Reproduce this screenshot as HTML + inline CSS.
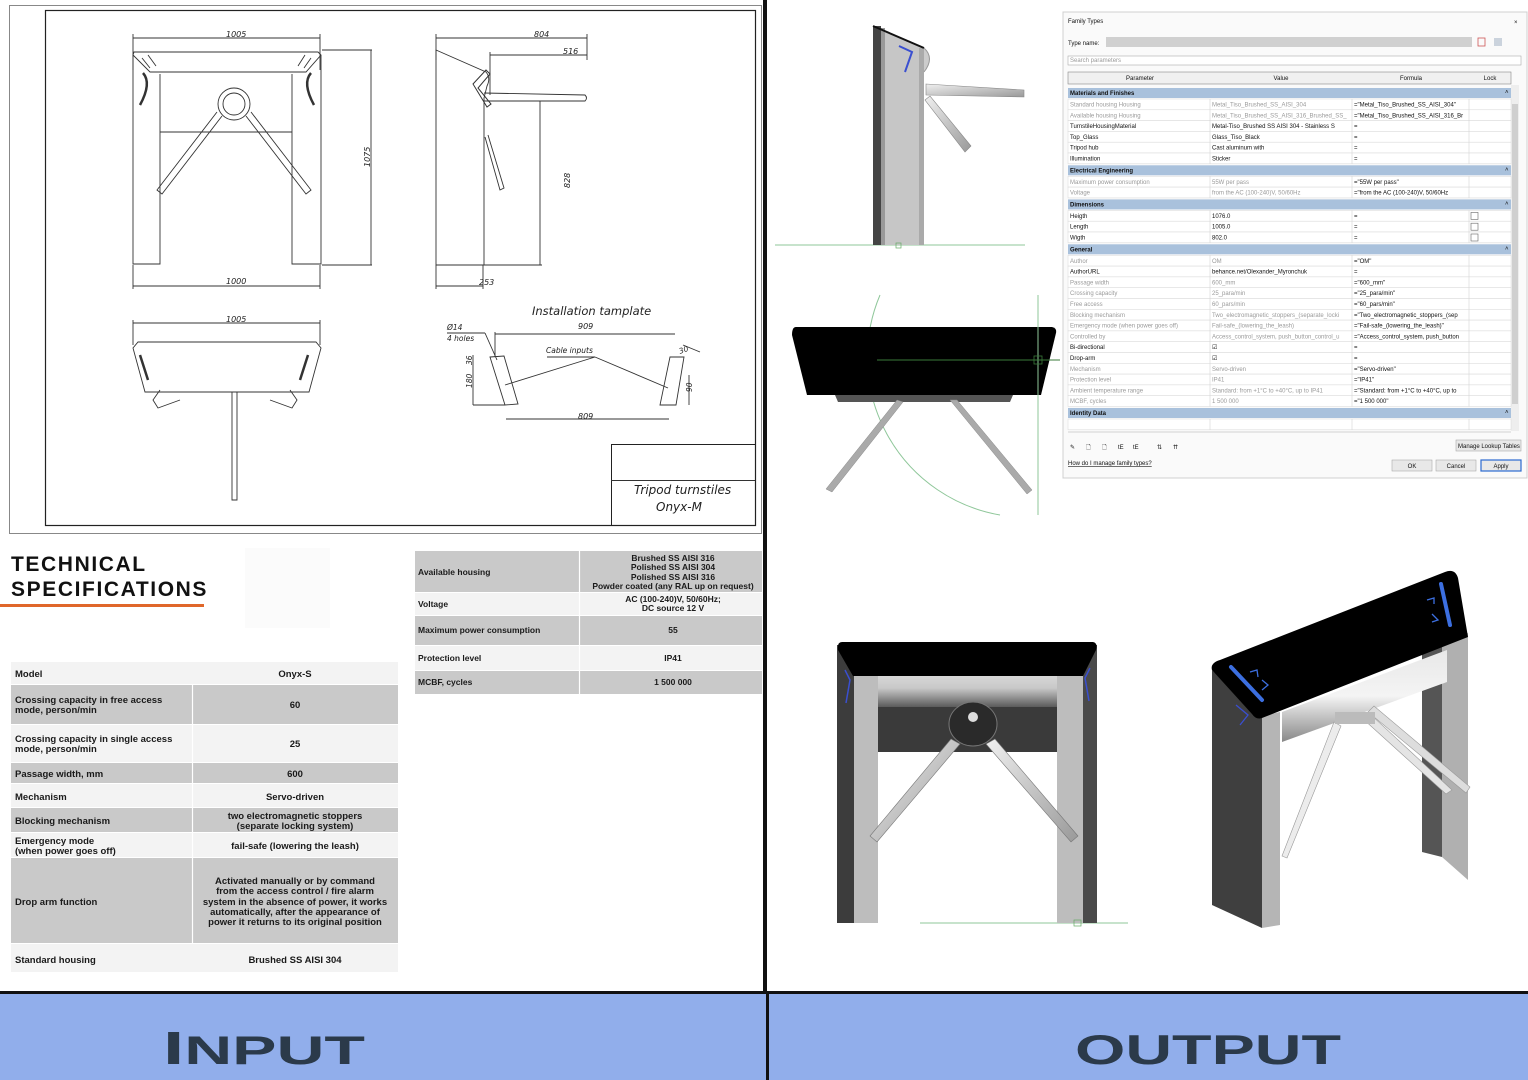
<!DOCTYPE html>
<html><head><meta charset="utf-8"><style>
html,body{margin:0;padding:0;background:#fff;}
svg{display:block;}
.dr{font-family:"DejaVu Sans","Liberation Sans",sans-serif;font-style:italic;fill:#222;}
.tb{font-family:"Liberation Sans",sans-serif;font-size:9.5px;fill:#1a1a1a;font-weight:bold;}
.dg{font-family:"Liberation Sans",sans-serif;font-size:6px;fill:#111;}
.dgg{font-family:"Liberation Sans",sans-serif;font-size:6px;fill:#9a9a9a;}
</style></head><body>
<svg id="s" width="1528" height="1080" viewBox="0 0 1528 1080" xmlns="http://www.w3.org/2000/svg">
<rect width="1528" height="1080" fill="#fff"/>
<defs>
<linearGradient id="drum" x1="0" y1="0" x2="0" y2="1"><stop offset="0" stop-color="#d8d8d8"/><stop offset="0.4" stop-color="#c8c8c8"/><stop offset="1" stop-color="#555"/></linearGradient>
<linearGradient id="drum2" x1="0" y1="0" x2="0" y2="1"><stop offset="0" stop-color="#e8e8e8"/><stop offset="0.5" stop-color="#f4f4f4"/><stop offset="1" stop-color="#888"/></linearGradient>
<linearGradient id="arm" x1="0" y1="0" x2="1" y2="1"><stop offset="0" stop-color="#f0f0f0"/><stop offset="1" stop-color="#999"/></linearGradient>
</defs>

<!-- ===== LEFT DRAWING ===== -->
<g stroke="#333" fill="none" stroke-width="1">
<rect x="9.5" y="5.5" width="752" height="528" stroke="#888"/>
<rect x="45.5" y="10.5" width="710" height="515" stroke="#222" stroke-width="1.2"/>
<rect x="611.5" y="444.5" width="144" height="81" stroke="#222"/>
<line x1="611" y1="480.5" x2="755" y2="480.5"/>
</g>
<g stroke="#333" fill="none" stroke-width="0.9">
<line x1="133" y1="38" x2="320" y2="38"/><line x1="133" y1="34" x2="133" y2="70"/><line x1="320" y1="34" x2="320" y2="70"/>
<path d="M134,52 L318,52 L321,55 L306,72 L150,72 L133,55 Z"/>
<path d="M133,55 L133,264 L160,264 L160,74"/>
<path d="M321,55 L321,264 L292,264 L292,74"/>
<line x1="160" y1="132" x2="292" y2="132"/>
<line x1="322" y1="50" x2="372" y2="50"/><line x1="322" y1="265" x2="372" y2="265"/><line x1="371" y1="50" x2="371" y2="265"/>
<line x1="133" y1="286" x2="320" y2="286"/><line x1="133" y1="265" x2="133" y2="289"/><line x1="320" y1="265" x2="320" y2="289"/>
<circle cx="234" cy="104" r="16"/><circle cx="234" cy="104" r="11"/>
<path d="M217,112 L157,190 L162,194 L222,116" /><path d="M251,112 L311,190 L306,194 L246,116"/>
<path d="M143,73 Q152,83 140,105" stroke-width="2.5"/><path d="M311,73 Q302,83 314,105" stroke-width="2.5"/>
<path d="M142,58 L150,68 M148,55 L156,66 M305,55 L298,66 M311,58 L304,68"/>
<line x1="436" y1="38" x2="587" y2="38"/><line x1="436" y1="34" x2="436" y2="60"/><line x1="587" y1="34" x2="587" y2="60"/>
<line x1="490" y1="55" x2="587" y2="55"/><line x1="490" y1="52" x2="490" y2="95"/>
<path d="M436,50 L486,72 Q491,78 487,86 L484,98 L484,265 L436,265 Z"/>
<path d="M484,93 L585,95 Q588,98 585,101 L484,101"/>
<path d="M473,84 L486,70 L490,74 L478,88 L491,104 L487,107 Z" stroke-width="1"/>
<path d="M485,137 L500,190 L504,188 L488,135"/>
<line x1="540" y1="101" x2="540" y2="265"/><line x1="484" y1="265" x2="542" y2="265"/>
<line x1="436" y1="286" x2="483" y2="286"/><line x1="436" y1="265" x2="436" y2="289"/><line x1="483" y1="265" x2="483" y2="289"/>
<line x1="133" y1="323" x2="320" y2="323"/><line x1="133" y1="320" x2="133" y2="345"/><line x1="320" y1="320" x2="320" y2="345"/>
<path d="M138,342 L316,342 L321,348 L309,392 L145,392 L133,348 Z"/>
<path d="M140,355 L148,380 M308,355 L300,380" stroke-width="2.5"/>
<path d="M160,390 L153,400 L158,408 L180,400 M290,390 L297,400 L292,408 L270,400"/>
<path d="M232,392 L232,500 L237,500 L237,392"/>
<path d="M490,357 L504,356 L518,404 L505,405 Z"/>
<path d="M670,357 L684,357 L676,405 L660,405 Z"/>
<line x1="495" y1="334" x2="675" y2="334"/><line x1="495" y1="332" x2="495" y2="357"/>
<line x1="506" y1="419" x2="669" y2="419"/>
<line x1="505" y1="385" x2="595" y2="357"/><line x1="595" y1="357" x2="668" y2="388"/><line x1="547" y1="357" x2="595" y2="357"/>
<line x1="447" y1="333" x2="485" y2="333"/><line x1="485" y1="333" x2="497" y2="360"/>
<line x1="473" y1="355" x2="473" y2="405"/><line x1="473" y1="405" x2="505" y2="405"/>
<line x1="683" y1="345" x2="700" y2="352"/><line x1="689" y1="375" x2="689" y2="405"/>
</g>
<g class="dr">
<text x="226" y="37" font-size="8">1005</text>
<text x="226" y="284" font-size="8">1000</text>
<text x="534" y="37" font-size="8">804</text>
<text x="563" y="54" font-size="8">516</text>
<text x="479" y="285" font-size="8">253</text>
<text x="226" y="322" font-size="8">1005</text>
<text font-size="8" transform="translate(370,167) rotate(-90)">1075</text>
<text font-size="8" transform="translate(570,188) rotate(-90)">828</text>
<text x="532" y="315" font-size="11.5">Installation tamplate</text>
<text x="578" y="329" font-size="8">909</text>
<text x="578" y="419" font-size="8">809</text>
<text x="546" y="353" font-size="7.5">Cable inputs</text>
<text x="447" y="330" font-size="7.5">Ø14</text>
<text x="447" y="341" font-size="7.5">4 holes</text>
<text font-size="7.5" transform="translate(472,365) rotate(-90)">36</text>
<text font-size="7.5" transform="translate(472,388) rotate(-90)">180</text>
<text x="679" y="352" font-size="7.5" transform="rotate(-20 685 350)">30</text>
<text font-size="7.5" transform="translate(692,392) rotate(-90)">90</text>
<text x="634" y="494" font-size="12">Tripod turnstiles</text>
<text x="656" y="511" font-size="12">Onyx-M</text>
</g>

<!-- ===== SPEC TITLE ===== -->
<rect x="245" y="548" width="85" height="80" fill="#fbfbfb"/>
<text x="11" y="571" font-family="Liberation Sans,sans-serif" font-weight="bold" font-size="21" letter-spacing="1.6" fill="#111">TECHNICAL</text>
<text x="11" y="596" font-family="Liberation Sans,sans-serif" font-weight="bold" font-size="21" letter-spacing="1.6" fill="#111">SPECIFICATIONS</text>
<rect x="0" y="604" width="204" height="3" fill="#e0672a"/>

<g>
<rect x="11" y="662" width="387" height="22" fill="#f3f3f3"/>
<rect x="11" y="685" width="387" height="39" fill="#c9c9c9"/>
<rect x="11" y="725" width="387" height="37" fill="#f3f3f3"/>
<rect x="11" y="763" width="387" height="20" fill="#c9c9c9"/>
<rect x="11" y="784" width="387" height="23" fill="#f3f3f3"/>
<rect x="11" y="808" width="387" height="24" fill="#c9c9c9"/>
<rect x="11" y="833" width="387" height="24" fill="#f3f3f3"/>
<rect x="11" y="858" width="387" height="85" fill="#c9c9c9"/>
<rect x="11" y="944" width="387" height="28" fill="#f3f3f3"/>
<g stroke="#fff" stroke-width="1.2"><line x1="192.5" y1="685" x2="192.5" y2="943"/></g>
</g>
<g class="tb">
<text x="15" y="677">Model</text><text x="295" y="677" text-anchor="middle">Onyx-S</text>
<text x="15" y="703">Crossing capacity in free access</text><text x="15" y="713">mode, person/min</text><text x="295" y="708" text-anchor="middle">60</text>
<text x="15" y="742">Crossing capacity in single access</text><text x="15" y="752">mode, person/min</text><text x="295" y="747" text-anchor="middle">25</text>
<text x="15" y="777">Passage width, mm</text><text x="295" y="777" text-anchor="middle">600</text>
<text x="15" y="800">Mechanism</text><text x="295" y="800" text-anchor="middle">Servo-driven</text>
<text x="15" y="824">Blocking mechanism</text><text x="295" y="819" text-anchor="middle">two electromagnetic stoppers</text><text x="295" y="829" text-anchor="middle">(separate locking system)</text>
<text x="15" y="844">Emergency mode</text><text x="15" y="854">(when power goes off)</text><text x="295" y="849" text-anchor="middle">fail-safe (lowering the leash)</text>
<text x="15" y="905">Drop arm function</text>
<text x="295" y="884" text-anchor="middle">Activated manually or by command</text>
<text x="295" y="894" text-anchor="middle">from the access control / fire alarm</text>
<text x="295" y="905" text-anchor="middle">system in the absence of power, it works</text>
<text x="295" y="915" text-anchor="middle">automatically, after the appearance of</text>
<text x="295" y="925" text-anchor="middle">power it returns to its original position</text>
<text x="15" y="963">Standard housing</text><text x="295" y="963" text-anchor="middle">Brushed SS AISI 304</text>
</g>
<rect x="415" y="551" width="347" height="41" fill="#c9c9c9"/>
<rect x="415" y="593" width="347" height="22" fill="#f3f3f3"/>
<rect x="415" y="616" width="347" height="29" fill="#c9c9c9"/>
<rect x="415" y="646" width="347" height="24" fill="#f3f3f3"/>
<rect x="415" y="671" width="347" height="23" fill="#c9c9c9"/>
<line x1="579.5" y1="551" x2="579.5" y2="694" stroke="#fff" stroke-width="1.2"/>
<g class="tb" font-size="8.5">
<text x="418" y="575" font-size="8.5">Available housing</text>
<text x="673" y="561" text-anchor="middle" font-size="8.5">Brushed SS AISI 316</text>
<text x="673" y="570" text-anchor="middle" font-size="8.5">Polished SS AISI 304</text>
<text x="673" y="580" text-anchor="middle" font-size="8.5">Polished SS AISI 316</text>
<text x="673" y="589" text-anchor="middle" font-size="8.5">Powder coated (any RAL up on request)</text>
<text x="418" y="607" font-size="8.5">Voltage</text>
<text x="673" y="602" text-anchor="middle" font-size="8.5">AC (100-240)V, 50/60Hz;</text>
<text x="673" y="611" text-anchor="middle" font-size="8.5">DC source 12 V</text>
<text x="418" y="633" font-size="8.5">Maximum power consumption</text><text x="673" y="633" text-anchor="middle" font-size="8.5">55</text>
<text x="418" y="661" font-size="8.5">Protection level</text><text x="673" y="661" text-anchor="middle" font-size="8.5">IP41</text>
<text x="418" y="685" font-size="8.5">MCBF, cycles</text><text x="673" y="685" text-anchor="middle" font-size="8.5">1 500 000</text>
</g>

<rect x="763" y="0" width="4" height="1080" fill="#111"/>

<!-- RENDER 1 -->
<line x1="775" y1="245" x2="1025" y2="245" stroke="#8fc79a" stroke-width="1"/>
<polygon points="873,26 924,48 924,245 873,245" fill="#c6c6c6"/>
<rect x="873" y="26" width="8" height="219" fill="#444"/>
<rect x="881" y="28" width="4" height="217" fill="#999"/>
<rect x="919" y="48" width="5" height="197" fill="#aaa"/>
<line x1="873" y1="26" x2="924" y2="48" stroke="#111" stroke-width="2"/>
<path d="M924,48 Q935,58 924,72" fill="#ccc" stroke="#999"/>
<polyline points="899,46 912,52 905,72" fill="none" stroke="#3a4fd0" stroke-width="2"/>
<polygon points="926,84 1024,90 1024,97 926,95" fill="url(#arm)" stroke="#888" stroke-width="0.6"/>
<polygon points="925,100 930,96 971,146 965,152" fill="url(#arm)" stroke="#888" stroke-width="0.6"/>
<rect x="896" y="243" width="5" height="5" fill="none" stroke="#6a6" stroke-width="0.7"/>

<!-- RENDER 2 -->
<path d="M880,295 A160,160 0 0 0 1000,515" fill="none" stroke="#8fc79a" stroke-width="1"/>
<polygon points="835,395 1013,395 1010,402 838,402" fill="#555"/>
<polygon points="897,400 903,402 832,492 826,489" fill="#aaa" stroke="#888" stroke-width="0.5"/>
<polygon points="950,400 957,400 1032,490 1027,494" fill="#aaa" stroke="#888" stroke-width="0.5"/>
<path d="M796,327 L1052,327 Q1057,328 1056,333 L1041,395 L807,395 L792,335 Q792,327 796,327 Z" fill="#000"/>
<line x1="1038" y1="295" x2="1038" y2="515" stroke="#8fc79a" stroke-width="1"/>
<line x1="877" y1="360" x2="1060" y2="360" stroke="#3a7a3a" stroke-width="1"/>
<rect x="1034" y="356" width="8" height="8" fill="none" stroke="#3a7a3a" stroke-width="0.8"/>

<!-- DIALOG -->
<g id="dlg">
<rect x="1063" y="12" width="464" height="466" fill="#fafafa" stroke="#d0d0d0"/>
<text x="1068" y="23" class="dg">Family Types</text>
<text x="1514" y="24" class="dg" font-size="8">×</text>
<text x="1068" y="45" class="dg">Type name:</text>
<rect x="1106" y="37" width="366" height="10" fill="#d0d0d0"/>
<rect x="1478" y="38" width="7" height="8" fill="none" stroke="#c55" stroke-width="0.8"/>
<rect x="1494" y="38" width="8" height="8" fill="#cbd3dd"/>
<rect x="1068" y="56" width="453" height="9" fill="#fff" stroke="#aaa" stroke-width="0.6"/>
<text x="1070" y="62" class="dgg" fill="#777">Search parameters</text>
<rect x="1068" y="72" width="443" height="12" fill="#f0f0f0" stroke="#888" stroke-width="0.6"/>
<text x="1140" y="80" class="dg" text-anchor="middle">Parameter</text>
<text x="1281" y="80" class="dg" text-anchor="middle">Value</text>
<text x="1411" y="80" class="dg" text-anchor="middle">Formula</text>
<text x="1490" y="80" class="dg" text-anchor="middle">Lock</text>
<rect x="1511" y="85" width="8" height="346" fill="#eee"/>
<rect x="1512" y="104" width="6" height="300" fill="#cfcfcf"/>
</g>

<!-- RENDER 3 -->
<line x1="920" y1="923" x2="1128" y2="923" stroke="#8fc79a" stroke-width="1"/>
<rect x="837" y="645" width="17" height="278" fill="#3c3c3c"/>
<rect x="854" y="670" width="24" height="253" fill="#bdbdbd"/>
<rect x="1057" y="670" width="26" height="253" fill="#bdbdbd"/>
<rect x="1083" y="645" width="14" height="278" fill="#4a4a4a"/>
<rect x="878" y="675" width="179" height="33" fill="url(#drum)"/>
<rect x="878" y="707" width="179" height="45" fill="#3a3a3a"/>
<path d="M842,642 L1093,642 Q1098,643 1096,650 L1083,676 L853,676 L838,650 Q837,642 842,642 Z" fill="#000"/>
<polyline points="845,670 850,680 846,703" fill="none" stroke="#3a4fd0" stroke-width="1.5"/>
<polyline points="1090,668 1085,678 1089,701" fill="none" stroke="#3a4fd0" stroke-width="1.5"/>
<ellipse cx="973" cy="724" rx="24" ry="22" fill="#2a2a2a" stroke="#777"/>
<circle cx="973" cy="717" r="5" fill="#ddd"/>
<polygon points="951,739 960,744 877,842 870,836" fill="url(#arm)" stroke="#777" stroke-width="0.6"/>
<polygon points="986,744 995,739 1078,836 1071,842" fill="url(#arm)" stroke="#777" stroke-width="0.6"/>
<rect x="1074" y="920" width="7" height="6" fill="none" stroke="#6a6" stroke-width="0.7"/>

<!-- RENDER 4 -->
<polygon points="1422,650 1442,643 1442,857 1422,852" fill="#555"/>
<polygon points="1442,643 1468,633 1468,880 1442,857" fill="#b0b0b0"/>
<polygon points="1282,712 1447,650 1447,682 1282,742" fill="url(#drum2)"/>
<polygon points="1212,670 1262,716 1262,928 1212,905" fill="#3f3f3f"/>
<polygon points="1262,716 1280,712 1280,925 1262,928" fill="#b5b5b5"/>
<polygon points="1334,722 1341,726 1287,858 1282,856" fill="#ececec" stroke="#999" stroke-width="0.6"/>
<polygon points="1368,712 1374,706 1470,787 1466,793" fill="#ddd" stroke="#999" stroke-width="0.6"/>
<polygon points="1362,718 1368,712 1452,790 1446,794" fill="#e4e4e4" stroke="#999" stroke-width="0.6"/>
<rect x="1335" y="712" width="40" height="12" fill="#bbb"/>
<path d="M1220,660 L1445,572 Q1455,568 1458,578 L1468,637 L1262,718 Q1256,720 1252,714 L1212,670 Q1210,663 1220,660 Z" fill="#000"/>
<line x1="1231" y1="667" x2="1262" y2="700" stroke="#3c6fe0" stroke-width="4" stroke-linecap="round"/>
<line x1="1441" y1="584" x2="1450" y2="625" stroke="#3c6fe0" stroke-width="4" stroke-linecap="round"/>
<polyline points="1250,672 1257,670 1258,677" fill="none" stroke="#3c6fe0" stroke-width="1.3"/>
<polyline points="1262,680 1268,685 1262,690" fill="none" stroke="#3c6fe0" stroke-width="1.3"/>
<polyline points="1427,600 1434,598 1434,604" fill="none" stroke="#3c6fe0" stroke-width="1.3"/>
<polyline points="1432,614 1438,620 1432,622" fill="none" stroke="#3c6fe0" stroke-width="1.3"/>
<polyline points="1236,705 1248,715 1240,725" fill="none" stroke="#3a4fd0" stroke-width="1.3"/>

<!-- BANNER -->
<rect x="0" y="993" width="1528" height="87" fill="#91aeeb"/>
<rect x="0" y="991" width="1528" height="3" fill="#111"/>
<rect x="766" y="991" width="3" height="89" fill="#111"/>
<text x="163" y="1064" font-family="Liberation Sans,sans-serif" font-weight="bold" font-size="46" fill="#2b3a4a" textLength="202" lengthAdjust="spacingAndGlyphs">I<tspan font-size="40">NPUT</tspan></text>
<text x="1075" y="1064" font-family="Liberation Sans,sans-serif" font-weight="bold" font-size="42" fill="#2b3a4a" textLength="266" lengthAdjust="spacingAndGlyphs">OUTPUT</text>
</svg>
<script>
(function(){
var NS="http://www.w3.org/2000/svg",g=document.getElementById("dlg");
function el(t,a,txt){var e=document.createElementNS(NS,t);for(var k in a)e.setAttribute(k,a[k]);if(txt!=null)e.textContent=txt;g.appendChild(e);return e;}
var rows=[
["H","Materials and Finishes"],
["g","Standard housing Housing","Metal_Tiso_Brushed_SS_AISI_304","=\"Metal_Tiso_Brushed_SS_AISI_304\""],
["g","Available housing Housing","Metal_Tiso_Brushed_SS_AISI_316_Brushed_SS_","=\"Metal_Tiso_Brushed_SS_AISI_316_Br"],
["b","TurnstileHousingMaterial","Metal-Tiso_Brushed SS AISI 304 - Stainless S","="],
["b","Top_Glass","Glass_Tiso_Black","="],
["b","Tripod hub","Cast aluminum with","="],
["b","Illumination","Sticker","="],
["H","Electrical Engineering"],
["g","Maximum power consumption","55W per pass","=\"55W per pass\""],
["g","Voltage","from the AC (100-240)V, 50/60Hz","=\"from the AC (100-240)V, 50/60Hz"],
["H","Dimensions"],
["b","Heigth","1076.0","=","c"],
["b","Length","1005.0","=","c"],
["b","Wigth","802.0","=","c"],
["H","General"],
["g","Author","OM","=\"OM\""],
["b","AuthorURL","behance.net/Olexander_Myronchuk","="],
["g","Passage width","600_mm","=\"600_mm\""],
["g","Crossing capacity","25_para/min","=\"25_para/min\""],
["g","Free access","60_pars/min","=\"60_pars/min\""],
["g","Blocking mechanism","Two_electromagnetic_stoppers_(separate_locki","=\"Two_electromagnetic_stoppers_(sep"],
["g","Emergency mode (when power goes off)","Fail-safe_(lowering_the_leash)","=\"Fail-safe_(lowering_the_leash)\""],
["g","Controlled by","Access_control_system, push_button_control_u","=\"Access_control_system, push_button"],
["b","Bi-directional","☑","="],
["b","Drop-arm","☑","="],
["g","Mechanism","Servo-driven","=\"Servo-driven\""],
["g","Protection level","IP41","=\"IP41\""],
["g","Ambient temperature range","Standard: from +1°C to +40°C, up to IP41","=\"Standard: from +1°C to +40°C, up to"],
["g","MCBF, cycles","1 500 000","=\"1 500 000\""],
["H","Identity Data"],
["e"]
];
var y=86.5;
rows.forEach(function(r){
 if(r[0]=="H"){y+=1.5;el("rect",{x:1068,y:y,width:443,height:10,fill:"#a9c1dc"});el("text",{x:1070,y:y+7,"class":"dg","font-weight":"bold"},r[1]);el("text",{x:1505,y:y+6,"class":"dg"},"˄");y+=11;return;}
 el("rect",{x:1068,y:y,width:443,height:10.8,fill:"#fff",stroke:"#d8d8d8","stroke-width":0.5});
 [1210,1352,1469].forEach(function(x){el("line",{x1:x,y1:y,x2:x,y2:y+10.8,stroke:"#ccc","stroke-width":0.5});});
 if(r[0]!="e"){var c=r[0]=="g"?"dgg":"dg";
 el("text",{x:1070,y:y+7.5,"class":c},r[1]);el("text",{x:1212,y:y+7.5,"class":c},r[2]);el("text",{x:1354,y:y+7.5,"class":"dg"},r[3]);
 if(r[4])el("rect",{x:1471,y:y+2,width:7,height:7,fill:"#fff",stroke:"#666","stroke-width":0.6});}
 y+=10.8;
});
el("line",{x1:1068,y1:432,x2:1511,y2:432,stroke:"#aaa","stroke-width":0.6});
var ic=["✎","🗋","🗋","tE","tE","⇅","⇈"],ix=[1070,1086,1102,1118,1133,1157,1173];
ic.forEach(function(t,i){el("text",{x:ix[i],y:449,"class":"dg","font-size":9,fill:"#2c5aa0"},t);});
el("rect",{x:1456,y:440,width:65,height:11,fill:"#e8e8e8",stroke:"#aaa","stroke-width":0.6});
el("text",{x:1458,y:448,"class":"dg","font-size":5.5},"Manage Lookup Tables");
el("text",{x:1068,y:465,"class":"dg","font-size":5.5,fill:"#2c5aa0","text-decoration":"underline"},"How do I manage family types?");
[[1392,"OK"],[1436,"Cancel"],[1481,"Apply"]].forEach(function(b,i){el("rect",{x:b[0],y:460,width:40,height:11,fill:"#e8e8e8",stroke:i==2?"#2c6ad0":"#aaa","stroke-width":i==2?1.2:0.6});el("text",{x:b[0]+20,y:468,"class":"dg","font-size":5.5,"text-anchor":"middle"},b[1]);});
})();
</script>
</body></html>
